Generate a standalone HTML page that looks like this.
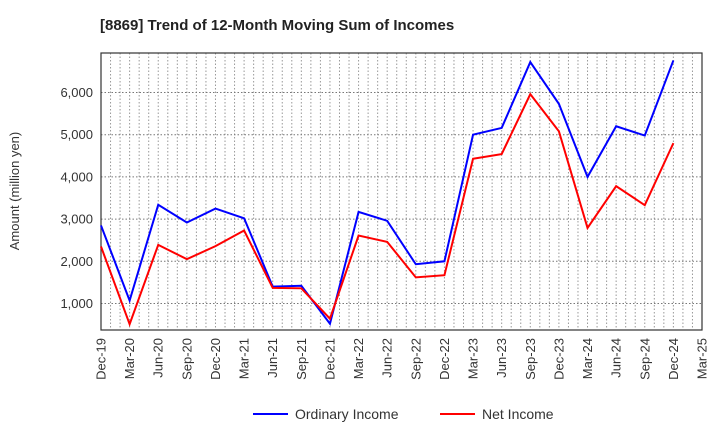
<!DOCTYPE html>
<html><head><meta charset="utf-8"><style>
body{margin:0;background:#fff;font-family:"Liberation Sans",sans-serif;}
svg text{font-family:"Liberation Sans",sans-serif;}
</style></head><body>
<svg id="chart" width="720" height="440">
<text x="100" y="30" font-size="15" font-weight="bold" fill="#222">[8869]  Trend of 12-Month Moving Sum of Incomes</text>
<text transform="translate(19,191) rotate(-90)" text-anchor="middle" font-size="13" fill="#333">Amount (million yen)</text>
<g id="grid"></g><g id="axes"></g><g id="series"></g>
<g>
<line x1="253" y1="414" x2="288" y2="414" stroke="#0000ff" stroke-width="2"/>
<text x="295" y="419" font-size="14" fill="#333">Ordinary Income</text>
<line x1="440" y1="414" x2="475" y2="414" stroke="#ff0000" stroke-width="2"/>
<text x="482" y="419" font-size="14" fill="#333">Net Income</text>
</g>
</svg>
<script>
const categories=["Dec-19","Mar-20","Jun-20","Sep-20","Dec-20","Mar-21","Jun-21","Sep-21","Dec-21","Mar-22","Jun-22","Sep-22","Dec-22","Mar-23","Jun-23","Sep-23","Dec-23","Mar-24","Jun-24","Sep-24","Dec-24","Mar-25"];
const ordinaryIncome=[2850,1070,3340,2920,3250,3020,1400,1420,520,3170,2960,1930,2000,5000,5160,6720,5730,4000,5200,4980,6760];
const netIncome=[2350,510,2390,2050,2360,2730,1370,1360,640,2610,2460,1620,1670,4430,4540,5960,5080,2790,3780,3330,4800];
const yTicks=[1000,2000,3000,4000,5000,6000];
const yTickLabels=["1,000","2,000","3,000","4,000","5,000","6,000"];
const L=101,R=702,T=53,B=330;
const x=i=>L+i*(R-L)/(categories.length-1);
const y=v=>303.5-(v-1000)*0.0422;
const NS="http://www.w3.org/2000/svg";
function mk(tag,attrs,parent){const e=document.createElementNS(NS,tag);for(const k in attrs)e.setAttribute(k,attrs[k]);parent.appendChild(e);return e;}
const grid=document.getElementById('grid'),axes=document.getElementById('axes'),ser=document.getElementById('series');
const months=(categories.length-1)*3;
for(let m=1;m<months;m++){const xx=L+m*(R-L)/months;
const g=mk('line',{x1:xx,x2:xx,y1:T,y2:B,stroke:'#999','stroke-dasharray':'1.5,2','stroke-width':1},grid);

}
yTicks.forEach((v,i)=>{const yy=y(v);
const g=mk('line',{x1:L,x2:R,y1:yy,y2:yy,stroke:'#777','stroke-dasharray':'1.5,2','stroke-width':1},grid);


const t=mk('text',{x:L-8,y:yy+4.5,'text-anchor':'end','font-size':13,fill:'#333'},axes);
t.textContent=yTickLabels[i];

});
const fr=mk('rect',{x:L,y:T,width:R-L,height:B-T,fill:'none',stroke:'#333','stroke-width':1.2},axes);


categories.forEach((c,i)=>{const xx=x(i);
const t=mk('text',{transform:`translate(${xx+4.5},${B+8}) rotate(-90)`,'text-anchor':'end','font-size':13,fill:'#333'},axes);
t.textContent=c;

});
function line(data,color,name){
const p=mk('polyline',{points:data.map((v,i)=>x(i)+','+y(v)).join(' '),fill:'none',stroke:color,'stroke-width':2,'stroke-linejoin':'miter'},ser);

}
line(ordinaryIncome,'#0000ff','ordinary-income-line');
line(netIncome,'#ff0000','net-income-line');
</script>
</body></html>
